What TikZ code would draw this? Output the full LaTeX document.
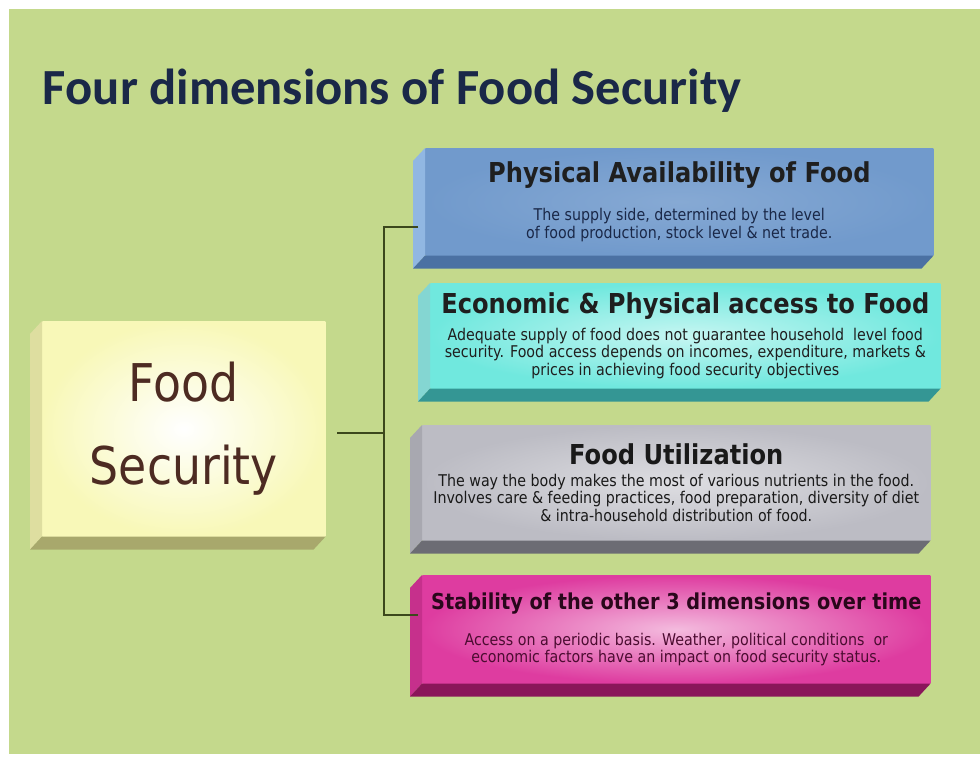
\documentclass[tikz,border=0pt]{standalone}
\usepackage{fontspec}
\setmainfont[FakeStretch=0.88]{DejaVu Sans}
\newfontfamily\titlefont{Carlito}
\usetikzlibrary{calc}
\definecolor{Meadow}{RGB}{196,217,140}
\definecolor{Ink}{RGB}{26,40,72}
\definecolor{Twig}{RGB}{60,72,28}
\definecolor{Cocoa}{RGB}{77,43,34}
\definecolor{SkyFace}{RGB}{113,154,204}
\definecolor{SkySide}{RGB}{145,183,226}
\definecolor{SkyBase}{RGB}{75,113,163}
\definecolor{AquaFace}{RGB}{112,232,222}
\definecolor{AquaSide}{RGB}{132,214,210}
\definecolor{AquaBase}{RGB}{52,150,148}
\definecolor{AshFace}{RGB}{188,188,196}
\definecolor{AshSide}{RGB}{168,168,176}
\definecolor{AshBase}{RGB}{108,108,116}
\definecolor{RoseFace}{RGB}{222,60,160}
\definecolor{RoseSide}{RGB}{198,48,140}
\definecolor{RoseBase}{RGB}{138,22,90}
\definecolor{CreamFace}{RGB}{248,248,184}
\definecolor{CreamSide}{RGB}{222,222,160}
\definecolor{CreamBase}{RGB}{168,168,108}

% side and bottom faces of an extruded box
\newcommand\bevel[3]{%
  \fill[#2] (#1.north west) -- ++(\dx,\dy) -- ([shift={(\dx,\dy)}]#1.south west) -- (#1.south west) -- cycle;
  \fill[#3] (#1.south west) -- ++(\dx,\dy) -- ([shift={(\dx,\dy)}]#1.south east) -- (#1.south east) -- cycle;}

\begin{document}
\begin{tikzpicture}[x=0.025cm,y=-0.025cm,
  face/.style={anchor=north west,inner sep=0pt,align=center,font=\fontsize{11.5}{12.5}\selectfont},
  link/.style={Twig,line width=1.2pt}]
\def\px{0.025cm}
\def\dx{-12}
\def\dy{13}
\def\head{\fontsize{19.5}{20}\selectfont\bfseries}
\useasboundingbox (0,0) rectangle (980,758);
\fill[Meadow] (9,9) rectangle (980,754);

\node[anchor=base west,Ink,font=\titlefont\bfseries\fontsize{36}{40}\selectfont] (title) at (38,104) {Four dimensions of Food Security};

% the centre box
\node[face,minimum width=283*\px,minimum height=215*\px,inner color=white,outer color=CreamFace,
  text=Cocoa,font=\fontsize{37}{59}\selectfont] (fs) at (42,321) {Food\\Security};
\bevel{fs}{CreamSide}{CreamBase}

% the four dimensions
\node[face,minimum width=508*\px,minimum height=107*\px,inner color=SkyFace!85!white,outer color=SkyFace,
  text=Ink] (avail) at (425,148)
  {{\head\color{black!88}Physical Availability of Food}\\[13pt]
   The supply side, determined by the level\\
   of food production, stock level \& net trade.};
\bevel{avail}{SkySide}{SkyBase}

\node[face,minimum width=510*\px,minimum height=105*\px,inner color=AquaFace!40!white,outer color=AquaFace,
  text=black!88] (access) at (430,283)
  {{\head Economic \& Physical access to Food}\\[5pt]
   Adequate supply of food does not guarantee household\ \ level food\\
   security. Food access depends on incomes, expenditure, markets \&\\
   prices in achieving food security objectives};
\bevel{access}{AquaSide}{AquaBase}

\node[face,minimum width=508*\px,minimum height=115*\px,inner color=AshFace!50!white,outer color=AshFace,
  text=black!90] (use) at (422,425)
  {{\head Food Utilization}\\[2.5pt]
   The way the body makes the most of various nutrients in the food.\\
   Involves care \& feeding practices, food preparation, diversity of diet\\
   \& intra-household distribution of food.};
\bevel{use}{AshSide}{AshBase}

\node[face,minimum width=508*\px,minimum height=108*\px,inner color=RoseFace!35!white,outer color=RoseFace,
  text=RoseBase!55!black] (stable) at (422,575)
  {{\fontsize{15.6}{18}\selectfont\bfseries\color{RoseBase!30!black}Stability of the other 3 dimensions over time}\\[13pt]
   Access on a periodic basis. Weather, political conditions\ \ or\\
   economic factors have an impact on food security status.};
\bevel{stable}{RoseSide}{RoseBase}

% connectors
\coordinate (hub) at (384,433);
\coordinate (fsout) at (337,433);
\coordinate (top) at (418,227);
\coordinate (bot) at (418,615);
\draw[link] (fsout) -- (hub);
\draw[link] (top) -- (top -| hub) -- (bot -| hub) -- (bot);
\end{tikzpicture}
\end{document}
